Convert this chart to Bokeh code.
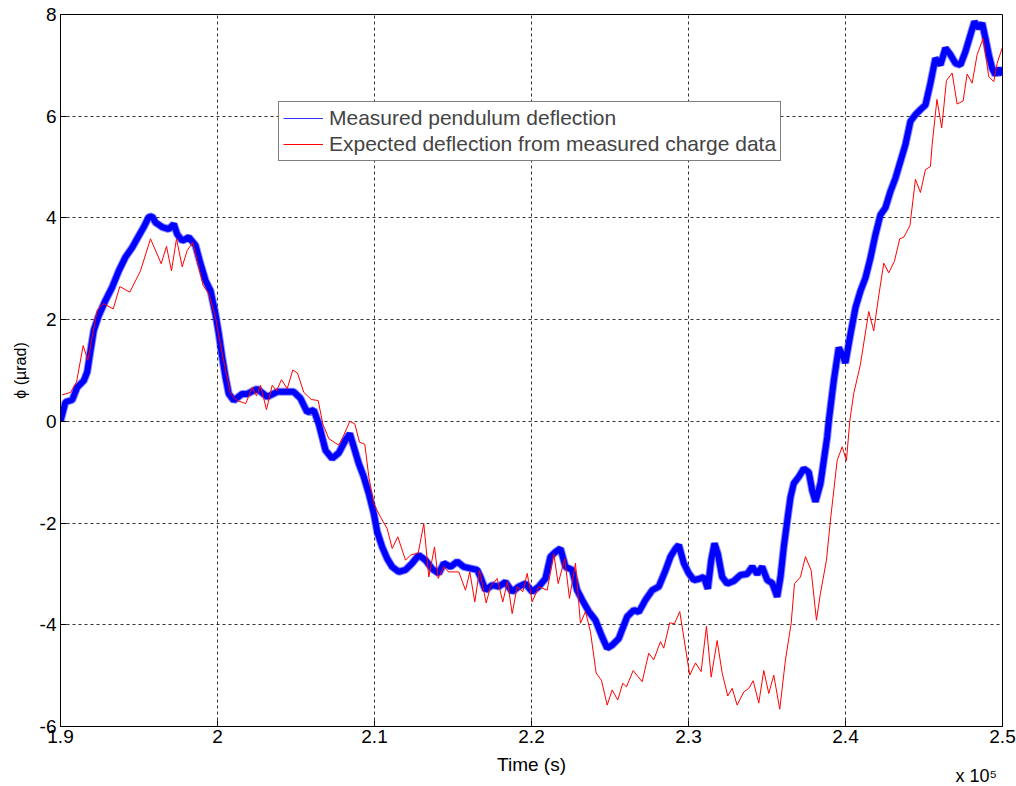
from bokeh.plotting import figure
from bokeh.models import (FixedTicker, Legend, LegendItem, Label, ColumnDataSource)
from bokeh.embed import file_html
from bokeh.resources import INLINE

# ---- data (time in seconds, deflection in microradians) ----
meas_t = [190000, 190318, 190745, 191064, 191484, 191701, 191911, 192121, 192439, 192866,
          193293, 193713, 194140, 194567, 194987, 195305, 195624, 195840, 196051, 196478,
          196898, 197216, 197433, 197751, 198172, 198599, 198917, 199236, 199554, 199873,
          200083, 200299, 200510, 200720, 201038, 201573, 201891, 202528, 203165, 203802,
          204859, 205287, 205713, 206134, 206452, 206879, 207306, 207726, 208153, 208427,
          208681, 208999, 209318, 209636, 209955, 210172, 210490, 210809, 211127, 211547,
          211975, 212401, 212820, 213248, 213675, 214094, 214413, 214840, 215267, 215686,
          216113, 216540, 216750, 217068, 217495, 217915, 218342, 218768, 219189, 219616,
          220043, 220462, 220889, 221208, 221527, 221845, 222163, 222590, 222908, 223227,
          223647, 224074, 224501, 224820, 225138, 225559, 226093, 226514, 226832, 227261,
          227688, 228108, 228535, 228854, 229172, 229382, 229701, 230019, 230338, 230656,
          230975, 231230, 231446, 231656, 231866, 232146, 232465, 232886, 233312, 233739,
          234057, 234376, 234694, 235013, 235331, 235650, 235860, 236070, 236287, 236497,
          236707, 237025, 237344, 237662, 237879, 238089, 238408, 238618, 238834, 238932,
          239250, 239569, 239785, 239995, 240314, 240632, 240951, 241269, 241588, 241906,
          242225, 242543, 242862, 243180, 243499, 243817, 244136, 244455, 244773, 245092,
          245410, 245729, 246047, 246366, 246684, 247003, 247321, 247640, 247958, 248213,
          248487, 248704, 248914, 249124, 249341, 249551, 249761, 250000]
meas_phi = [0.00, 0.38, 0.42, 0.67, 0.80, 0.97, 1.39, 1.79, 2.08, 2.38,
            2.64, 2.96, 3.23, 3.42, 3.65, 3.82, 4.02, 4.03, 3.91, 3.82,
            3.78, 3.88, 3.68, 3.55, 3.62, 3.46, 3.10, 2.77, 2.57, 2.11,
            1.72, 1.26, 0.87, 0.54, 0.41, 0.54, 0.54, 0.64, 0.48, 0.58,
            0.58, 0.45, 0.18, 0.22, -0.05, -0.57, -0.73, -0.62, -0.37, -0.24,
            -0.50, -0.83, -1.09, -1.42, -1.81, -2.17, -2.47, -2.70, -2.86, -2.96,
            -2.92, -2.79, -2.63, -2.73, -2.90, -2.99, -2.79, -2.86, -2.76, -2.86,
            -2.89, -2.92, -3.06, -3.32, -3.22, -3.25, -3.16, -3.35, -3.25, -3.19,
            -3.35, -3.25, -3.09, -2.66, -2.57, -2.50, -2.86, -2.92, -3.32, -3.51,
            -3.74, -3.91, -4.24, -4.46, -4.40, -4.27, -3.84, -3.71, -3.75, -3.51,
            -3.32, -3.25, -2.93, -2.66, -2.50, -2.43, -2.79, -2.99, -3.12, -3.10,
            -3.06, -3.29, -2.73, -2.40, -2.60, -3.06, -3.19, -3.14, -3.02, -3.00,
            -2.86, -3.00, -2.86, -3.12, -3.18, -3.45, -3.06, -2.47, -1.96, -1.49,
            -1.22, -1.09, -0.93, -1.00, -1.36, -1.58, -1.22, -0.77, -0.31, 0.00,
            0.79, 1.45, 1.32, 1.15, 1.71, 2.23, 2.56, 2.82, 3.21, 3.67,
            4.06, 4.20, 4.52, 4.78, 5.11, 5.44, 5.90, 6.03, 6.13, 6.22,
            6.65, 7.14, 7.01, 7.34, 7.21, 7.04, 7.01, 7.27, 7.60, 7.86,
            7.73, 7.83, 7.53, 7.21, 6.94, 6.81, 6.94, 6.81]

exp_t = [190108, 190637, 191019, 191446, 191739, 192337, 192719, 193356, 193777, 194414,
         195095, 195732, 196414, 196751, 197070, 197388, 197751, 198070, 198426, 199089,
         199445, 199872, 200299, 200828, 201254, 201800, 202210, 202484, 202739, 203121,
         203484, 203758, 204076, 204439, 204796, 205096, 205497, 205968, 206413, 206707,
         207089, 207726, 208045, 208427, 208745, 209045, 209382, 209637, 209955, 210382,
         210809, 211127, 211484, 211975, 212293, 212783, 213140, 213459, 213822, 214056,
         214413, 214713, 215369, 215796, 216070, 216388, 216688, 217114, 217388, 217815,
         218172, 218471, 218768, 219089, 219445, 219726, 220045, 220465, 220999, 221418,
         221698, 222118, 222418, 222800, 223119, 223438, 223756, 224118, 224456, 224820,
         225138, 225494, 225813, 226048, 226475, 227048, 227469, 227787, 228214, 228424,
         228806, 229105, 229443, 230080, 230443, 230806, 231144, 231444, 231826, 232145,
         232502, 232782, 233100, 233521, 233840, 234120, 234476, 234795, 235113, 235431,
         235813, 236176, 236540, 236750, 237132, 237450, 237813, 238150, 238405, 238787,
         239042, 239468, 239787, 240061, 240271, 240525, 240951, 241480, 241799, 242117,
         242436, 242754, 243117, 243455, 243710, 244105, 244455, 244773, 245092, 245410,
         245518, 245824, 246129, 246429, 246792, 247110, 247493, 247747, 248066, 248384,
         248766, 249124, 249443, 249659, 249978]
exp_phi = [0.52, 0.57, 0.77, 1.49, 1.20, 2.18, 2.32, 2.21, 2.65, 2.54,
           2.96, 3.59, 3.10, 3.44, 2.96, 3.59, 3.04, 3.36, 3.52, 2.67,
           2.51, 2.05, 1.33, 0.54, 0.41, 0.35, 0.67, 0.50, 0.71, 0.23,
           0.71, 0.60, 0.82, 0.64, 1.01, 0.95, 0.57, 0.43, 0.41, -0.05,
           -0.34, -0.47, -0.27, 0.00, -0.05, -0.41, -0.45, -1.09, -1.62, -1.88,
           -2.11, -2.50, -2.27, -2.73, -2.63, -2.59, -2.01, -3.06, -2.47, -3.09,
           -2.86, -2.96, -2.96, -3.32, -2.96, -3.55, -2.93, -3.57, -3.25, -3.09,
           -3.55, -3.15, -3.78, -3.25, -3.35, -2.99, -3.55, -3.25, -3.32, -2.60,
           -3.19, -2.70, -3.48, -2.79, -3.97, -3.74, -4.14, -4.95, -5.09, -5.58,
           -5.28, -5.48, -5.15, -5.22, -4.90, -5.12, -4.56, -4.69, -4.33, -4.46,
           -3.96, -3.98, -3.74, -4.99, -4.75, -4.92, -4.03, -5.03, -4.31, -4.95,
           -5.40, -5.25, -5.58, -5.32, -5.25, -5.10, -5.54, -4.90, -5.35, -4.99,
           -5.66, -4.69, -3.97, -3.19, -3.06, -2.66, -2.93, -3.91, -3.38, -2.73,
           -1.94, -0.77, -0.50, -0.77, 0.00, 0.55, 1.12, 2.16, 1.78, 2.47,
           3.11, 2.92, 3.15, 3.59, 3.62, 3.85, 4.76, 4.50, 4.95, 5.01,
           5.44, 6.33, 5.77, 6.70, 6.85, 6.24, 6.30, 6.83, 6.65, 7.21,
           7.53, 6.78, 6.68, 7.04, 7.34]

x_ticks = [190000, 200000, 210000, 220000, 230000, 240000, 250000]
x_tick_labels = ["1.9", "2", "2.1", "2.2", "2.3", "2.4", "2.5"]
y_ticks = [-6, -4, -2, 0, 2, 4, 6, 8]
y_tick_labels = ["-6", "-4", "-2", "0", "2", "4", "6", "8"]

series_names = ["Measured pendulum deflection",
                "Expected deflection from measured charge data"]
x_title = "Time (s)"
x_exponent = "x 10\u2075"
y_title = "ϕ (µrad)"

FONT = "Liberation Sans"

p = figure(width=1016, height=786, output_backend="svg", toolbar_location=None,
           x_range=(190000, 250000), y_range=(-6, 8),
           min_border_left=60, min_border_right=14, min_border_top=14, min_border_bottom=59)
p.background_fill_color = "white"
p.border_fill_color = "white"
p.outline_line_color = "black"
p.outline_line_width = 1

# axes
p.xaxis.ticker = FixedTicker(ticks=x_ticks)
p.xaxis.major_label_overrides = {t: l for t, l in zip(x_ticks, x_tick_labels)}
p.yaxis.ticker = FixedTicker(ticks=y_ticks)
p.yaxis.major_label_overrides = {t: l for t, l in zip(y_ticks, y_tick_labels)}
for ax in (p.xaxis[0], p.yaxis[0]):
    ax.axis_line_color = "black"
    ax.major_tick_line_color = "black"
    ax.major_tick_in = 6
    ax.major_tick_out = 0
    ax.minor_tick_line_color = None
    ax.major_label_text_font = FONT
    ax.major_label_text_font_size = "19px"
    ax.major_label_text_color = "black"
    ax.axis_label_text_font = FONT
    ax.axis_label_text_font_style = "normal"
    ax.axis_label_text_color = "black"
p.xaxis.major_label_standoff = 3
p.yaxis.axis_label = y_title
p.yaxis.axis_label_text_font_size = "16px"
p.yaxis.major_label_standoff = 4
p.yaxis.axis_label_standoff = 8

# grid
for g in (p.xgrid[0], p.ygrid[0]):
    g.grid_line_color = "black"
    g.grid_line_dash = "3 3"
    g.grid_line_alpha = 0.8
    g.grid_line_width = 1

# data lines
src_m = ColumnDataSource(dict(t=meas_t, phi=meas_phi))
src_e = ColumnDataSource(dict(t=exp_t, phi=exp_phi))
p.line("t", "phi", source=src_m, line_color="#0000ff", line_width=8, line_alpha=0.45)
p.line("t", "phi", source=src_m, line_color="#0000ff", line_width=6)
red = p.line("t", "phi", source=src_e, line_color="#ff0000", line_width=1)

# legend with thin sample lines (single-point line draws nothing in the plot)
leg_m = p.line(meas_t[:1], meas_phi[:1], line_color="#3333ff", line_width=1.2)
legend = Legend(items=[LegendItem(label=series_names[0], renderers=[leg_m]),
                       LegendItem(label=series_names[1], renderers=[red])],
                location=(218, 565), margin=0, padding=4, spacing=2,
                glyph_width=40, glyph_height=20, label_height=20, label_standoff=6,
                label_text_font=FONT, label_text_font_size="21px",
                border_line_color="black", border_line_width=1,
                background_fill_color="white", background_fill_alpha=1)
p.add_layout(legend, "center")

# bottom texts (side panel, positioned through the plot's scales)
p.add_layout(Label(x=220000, y=-6.75, text=x_title, text_font=FONT, text_font_size="19px",
                   text_baseline="middle", text_align="center", text_color="black"), "below")
p.add_layout(Label(x=247006, y=-6.97, text=x_exponent, text_font=FONT, text_font_size="18px",
                   text_baseline="middle", text_align="left", text_color="black"), "below")

open("out.html", "w").write(file_html(p, INLINE))
